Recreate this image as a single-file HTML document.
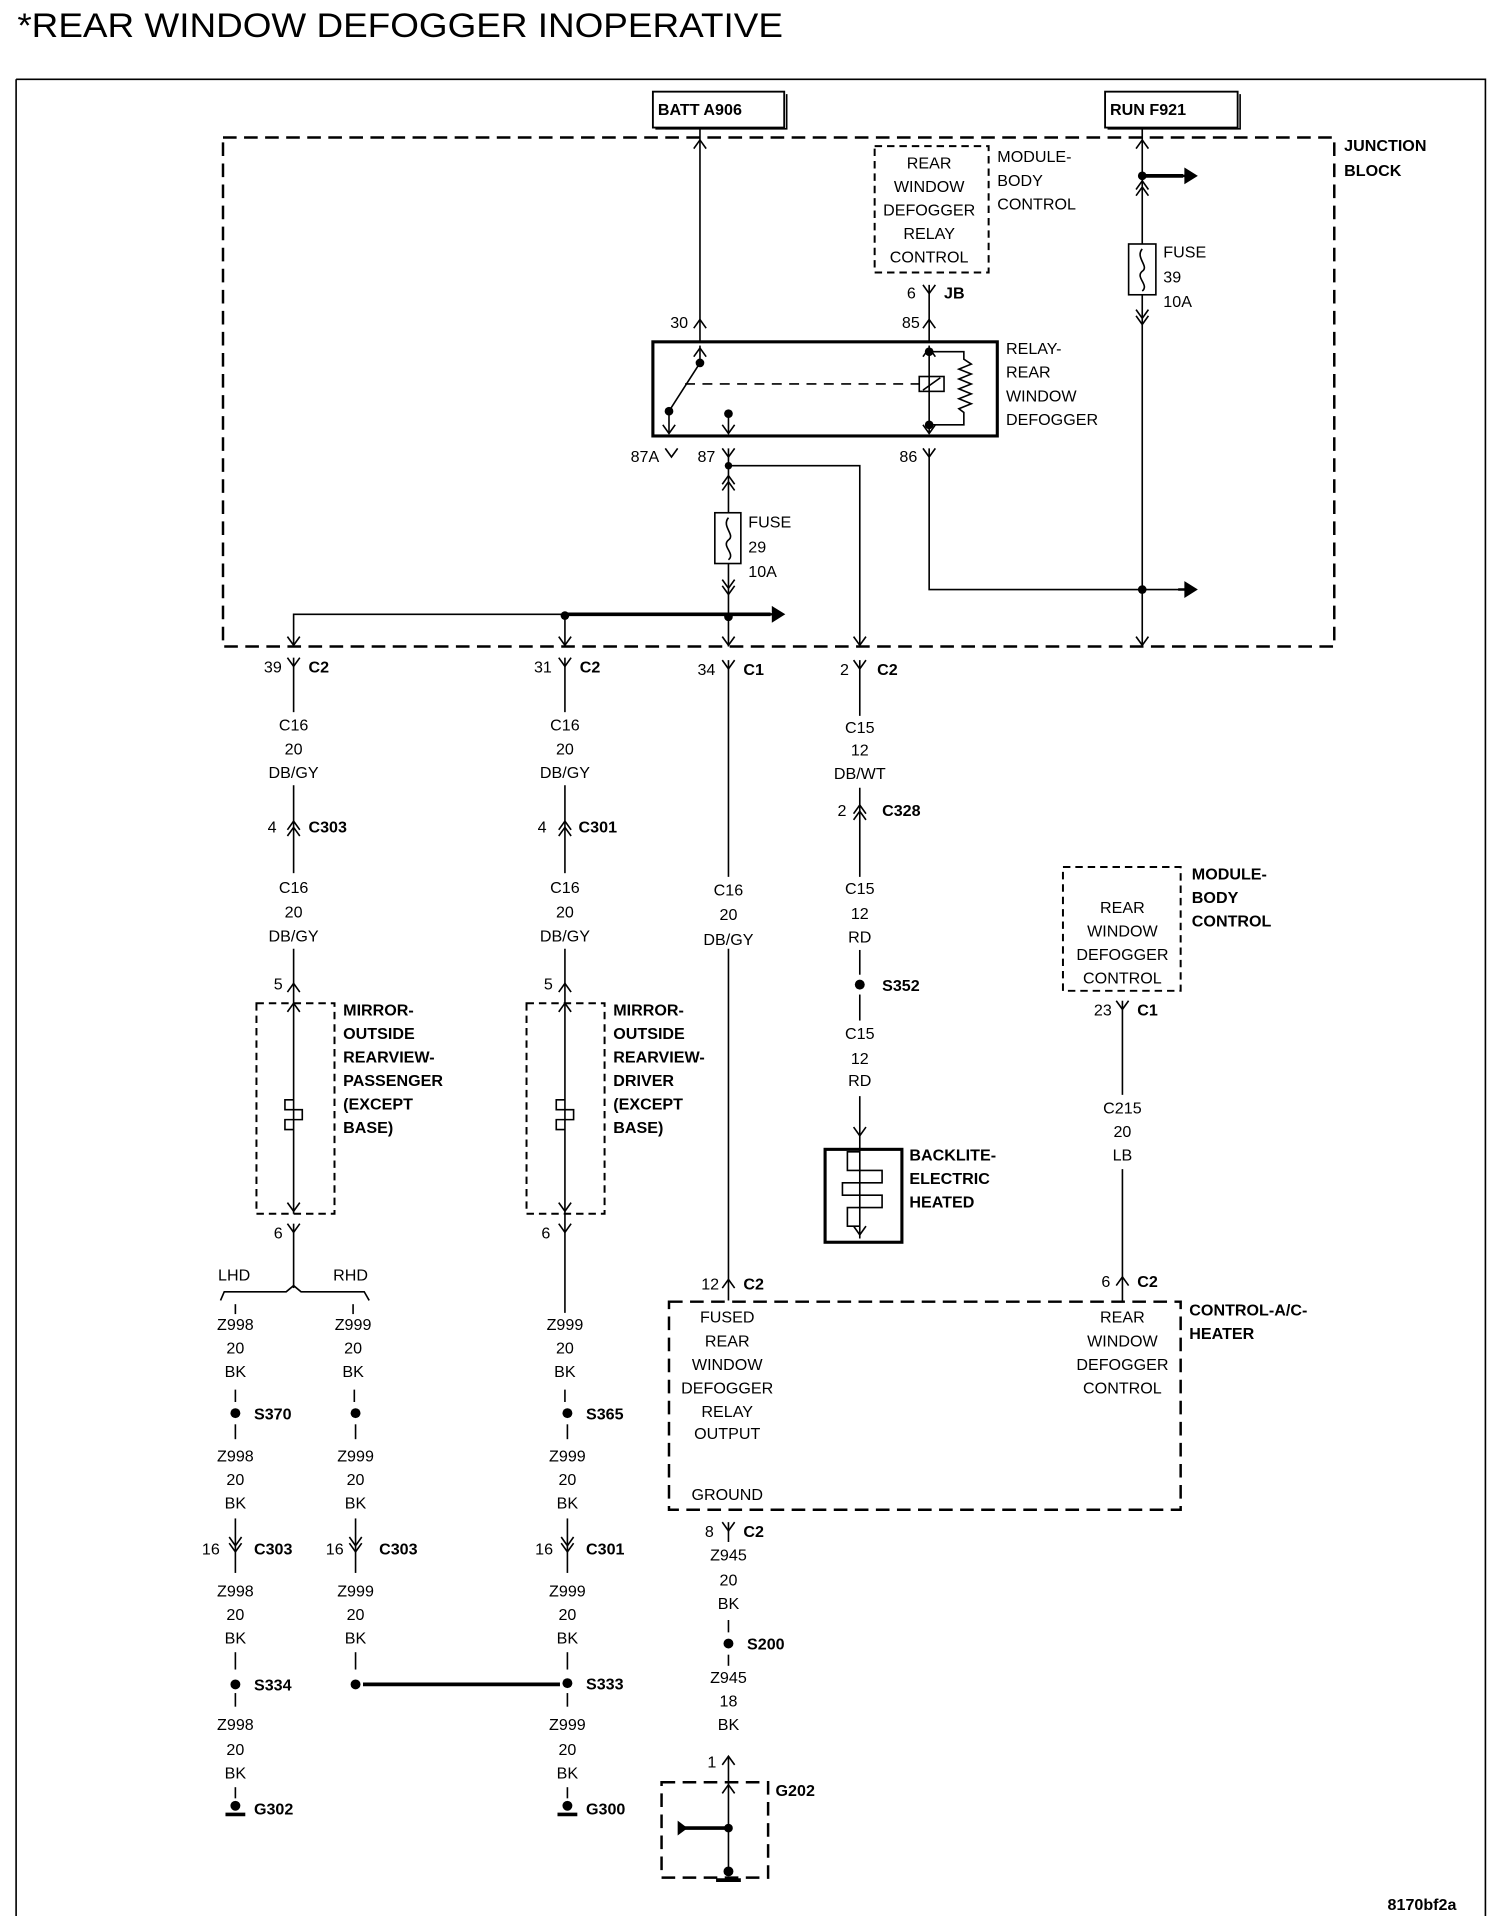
<!DOCTYPE html>
<html><head><meta charset="utf-8">
<style>
html,body{margin:0;padding:0;background:#fff;}
svg{display:block;}
text{font-family:"Liberation Sans Narrow","Liberation Sans",sans-serif;font-size:13px;fill:#000;}
.c{text-anchor:middle;}
.b{font-weight:bold;font-family:"Liberation Sans Narrow","Liberation Sans",sans-serif;}
.w{stroke:#000;stroke-width:1.3;fill:none;}
.t{stroke:#000;stroke-width:3;fill:none;}
.d{stroke:#000;stroke-width:2;fill:none;stroke-dasharray:11 6;}
.dt{stroke:#000;stroke-width:1.6;fill:none;stroke-dasharray:6 4;}
</style></head><body>
<svg width="1504" height="1916" viewBox="0 0 1214 1547" preserveAspectRatio="none" xmlns="http://www.w3.org/2000/svg">
<defs>
<path id="dn" d="M-5,-7 L0,0 L5,-7" stroke="#000" stroke-width="1.3" fill="none"/>
<path id="up" d="M-5,7 L0,0 L5,7" stroke="#000" stroke-width="1.3" fill="none"/>
<path id="arr" d="M0,0 L12,0 M6,-5 L14,0 L6,5 Z" stroke="#000" stroke-width="2" fill="#000"/>
</defs>
<text x="14" y="30" style="font-family:'Liberation Sans',sans-serif;font-size:28px" textLength="618" lengthAdjust="spacingAndGlyphs">*REAR WINDOW DEFOGGER INOPERATIVE</text>
<!-- frame -->
<path d="M13,64 H1199 V1553 M13,64 V1553" class="w" stroke-width="1.5"/>
<line x1="13" y1="1554" x2="1199" y2="1554" stroke="#000" stroke-width="3"/>

<!-- top boxes -->
<rect x="527" y="74" width="106" height="29" fill="none" stroke="#000" stroke-width="1.5"/>
<path d="M529,104 H635 V76" class="w" stroke-width="2.5"/>
<text x="531" y="93" class="b" font-size="13">BATT A906</text>
<rect x="892" y="74" width="107" height="29" fill="none" stroke="#000" stroke-width="1.5"/>
<path d="M894,104 H1001 V76" class="w" stroke-width="2.5"/>
<text x="896" y="93" class="b" font-size="13">RUN F921</text>

<!-- junction block -->
<rect x="180" y="111" width="897" height="411" class="d"/>
<text x="1085" y="122" class="b">JUNCTION</text>
<text x="1085" y="142" class="b">BLOCK</text>

<!-- batt wire -->
<line x1="565" y1="104" x2="565" y2="276" class="w"/>
<use href="#up" x="565" y="113"/>
<text x="541" y="265">30</text><use href="#up" x="565" y="258"/>

<!-- module body control top -->
<path d="M706,118 H798 V220 H706 Z" class="dt"/>
<text x="750" y="136" class="c">REAR</text>
<text x="750" y="155" class="c">WINDOW</text>
<text x="750" y="174" class="c">DEFOGGER</text>
<text x="750" y="193" class="c">RELAY</text>
<text x="750" y="212" class="c">CONTROL</text>
<text x="805" y="131">MODULE-</text>
<text x="805" y="150">BODY</text>
<text x="805" y="169">CONTROL</text>
<line x1="750" y1="230" x2="750" y2="276" class="w"/>
<use href="#dn" x="750" y="237"/>
<text x="732" y="241">6</text><text x="762" y="241" class="b">JB</text>
<use href="#up" x="750" y="258"/><text x="728" y="265">85</text>

<!-- relay -->
<rect x="527" y="276" width="278" height="76" fill="none" stroke="#000" stroke-width="2.5"/>
<text x="812" y="286">RELAY-</text>
<text x="812" y="305">REAR</text>
<text x="812" y="324">WINDOW</text>
<text x="812" y="343">DEFOGGER</text>
<line x1="565" y1="279" x2="565" y2="293" class="w"/><use href="#up" x="565" y="281"/>
<circle cx="565" cy="293" r="3.5"/>
<line x1="565" y1="293" x2="540" y2="332" class="w"/>
<circle cx="540" cy="332" r="3.5"/>
<line x1="540" y1="332" x2="540" y2="350" class="w"/><use href="#dn" x="540" y="350"/>
<circle cx="588" cy="334" r="3.5"/>
<line x1="588" y1="334" x2="588" y2="350" class="w"/><use href="#dn" x="588" y="350"/>
<line x1="553" y1="310" x2="742" y2="310" class="w" stroke-dasharray="8 6"/>
<rect x="742" y="304" width="20" height="12" fill="none" stroke="#000" stroke-width="1.3"/>
<line x1="745" y1="315" x2="759" y2="305" class="w"/>
<line x1="750" y1="279" x2="750" y2="350" class="w"/><use href="#up" x="750" y="281"/><use href="#dn" x="750" y="350"/>
<circle cx="750" cy="284" r="3.5"/><circle cx="750" cy="343" r="3.5"/>
<path d="M750,284 H778 V290 L784,294 L774,298 L784,302 L774,306 L784,310 L774,314 L784,318 L774,322 L784,326 L774,330 L778,333 V343 H750" class="w"/>

<text x="509" y="373">87A</text><use href="#dn" x="542" y="369"/>
<text x="563" y="373">87</text><use href="#dn" x="588" y="369"/>
<text x="726" y="373">86</text><use href="#dn" x="750" y="369"/>

<!-- 87 wire -->
<line x1="588" y1="362" x2="588" y2="522" class="w"/>
<circle cx="588" cy="376" r="3"/>
<path d="M588,376 H694 V522" class="w" stroke-width="1.6"/>
<use href="#dn" x="694" y="521"/>
<use href="#up" x="588" y="384"/><use href="#up" x="588" y="389"/>
<rect x="577" y="414" width="21" height="41" fill="#fff" stroke="#000" stroke-width="1.3"/>
<path d="M588,418 C582,425 594,432 588,436 C582,441 594,447 588,452" class="w"/>
<text x="604" y="426">FUSE</text><text x="604" y="446">29</text><text x="604" y="466">10A</text>
<use href="#dn" x="588" y="475"/><use href="#dn" x="588" y="480"/>
<!-- bus -->
<path d="M237,522 V496 H622" class="w"/>
<path d="M456,496 H622" class="t" stroke-width="2"/>
<use href="#arr" x="618" y="498" transform="translate(0,-2)"/>
<circle cx="456" cy="497" r="3.5"/><circle cx="588" cy="498" r="3.5"/>
<line x1="456" y1="497" x2="456" y2="522" class="w"/>
<use href="#dn" x="237" y="521"/><use href="#dn" x="456" y="521"/><use href="#dn" x="588" y="521"/>

<!-- 86 wire -->
<path d="M750,362 V476 H955" class="w"/>
<circle cx="922" cy="476" r="3.5"/>
<use href="#arr" x="951" y="476"/>
<!-- run wire -->
<line x1="922" y1="104" x2="922" y2="522" class="w"/>
<use href="#up" x="922" y="113"/>
<circle cx="922" cy="142" r="3.5"/>
<line x1="922" y1="142" x2="955" y2="142" class="t" stroke-width="2"/>
<use href="#arr" x="951" y="142"/>
<use href="#up" x="922" y="208" transform="translate(0,-62)"/><use href="#up" x="922" y="213" transform="translate(0,-62)"/>
<rect x="911" y="197" width="22" height="41" fill="#fff" stroke="#000" stroke-width="1.3"/>
<path d="M922,201 C916,208 928,215 922,219 C916,224 928,230 922,235" class="w"/>
<text x="939" y="208">FUSE</text><text x="939" y="228">39</text><text x="939" y="248">10A</text>
<use href="#dn" x="922" y="257"/><use href="#dn" x="922" y="262"/>
<use href="#dn" x="922" y="521"/>

<!-- connectors below JB -->
<g>
<use href="#dn" x="237" y="538"/><text x="213" y="543">39</text><text x="249" y="543" class="b">C2</text>
<use href="#dn" x="456" y="538"/><text x="431" y="543">31</text><text x="468" y="543" class="b">C2</text>
<use href="#dn" x="588" y="540"/><text x="563" y="545">34</text><text x="600" y="545" class="b">C1</text>
<use href="#dn" x="694" y="540"/><text x="678" y="545">2</text><text x="708" y="545" class="b">C2</text>
</g>

<!-- column A x=237 -->
<line x1="237" y1="531" x2="237" y2="575" class="w"/>
<text x="237" y="590" class="c">C16</text><text x="237" y="609" class="c">20</text><text x="237" y="628" class="c">DB/GY</text>
<line x1="237" y1="634" x2="237" y2="705" class="w"/>
<use href="#up" x="237" y="663"/><use href="#up" x="237" y="668"/>
<text x="216" y="672">4</text><text x="249" y="672" class="b">C303</text>
<text x="237" y="721" class="c">C16</text><text x="237" y="741" class="c">20</text><text x="237" y="760" class="c">DB/GY</text>
<line x1="237" y1="766" x2="237" y2="980" class="w"/>
<use href="#up" x="237" y="794"/><text x="221" y="799">5</text>
<use href="#up" x="237" y="810"/><use href="#dn" x="237" y="978"/>
<path d="M207,810 H270 V980 H207 Z" class="dt"/>
<path d="M237,888 H230 V896 H244 V904 H230 V912 H237" class="w"/>
<text x="277" y="820" class="b">MIRROR-</text><text x="277" y="839" class="b">OUTSIDE</text><text x="277" y="858" class="b">REARVIEW-</text><text x="277" y="877" class="b">PASSENGER</text><text x="277" y="896" class="b">(EXCEPT</text><text x="277" y="915" class="b">BASE)</text>
<use href="#dn" x="237" y="995"/><text x="221" y="1000">6</text>
<line x1="237" y1="988" x2="237" y2="1040" class="w"/>
<text x="189" y="1034" class="c">LHD</text><text x="283" y="1034" class="c">RHD</text>
<path d="M178,1050 L181,1043 H231 L237,1038 L243,1043 H294 L298,1050" class="w"/>

<!-- A1 x=190 -->
<line x1="190" y1="1053" x2="190" y2="1061" class="w"/>
<text x="190" y="1074" class="c">Z998</text><text x="190" y="1093" class="c">20</text><text x="190" y="1112" class="c">BK</text>
<line x1="190" y1="1122" x2="190" y2="1132" class="w"/>
<circle cx="190" cy="1141" r="4"/><text x="205" y="1146" class="b">S370</text>
<line x1="190" y1="1150" x2="190" y2="1162" class="w"/>
<text x="190" y="1180" class="c">Z998</text><text x="190" y="1199" class="c">20</text><text x="190" y="1218" class="c">BK</text>
<line x1="190" y1="1226" x2="190" y2="1270" class="w"/>
<use href="#dn" x="190" y="1248"/><use href="#dn" x="190" y="1253"/>
<text x="163" y="1255">16</text><text x="205" y="1255" class="b">C303</text>
<text x="190" y="1289" class="c">Z998</text><text x="190" y="1308" class="c">20</text><text x="190" y="1327" class="c">BK</text>
<line x1="190" y1="1334" x2="190" y2="1348" class="w"/>
<circle cx="190" cy="1360" r="4"/><text x="205" y="1365" class="b">S334</text>
<line x1="190" y1="1367" x2="190" y2="1378" class="w"/>
<text x="190" y="1397" class="c">Z998</text><text x="190" y="1417" class="c">20</text><text x="190" y="1436" class="c">BK</text>
<line x1="190" y1="1443" x2="190" y2="1452" class="w"/>
<circle cx="190" cy="1458" r="4"/><line x1="182" y1="1465" x2="198" y2="1465" class="t" stroke-width="2"/>
<text x="205" y="1465" class="b">G302</text>

<!-- A2 x=288 -->
<line x1="285" y1="1053" x2="285" y2="1061" class="w"/>
<text x="285" y="1074" class="c">Z999</text><text x="285" y="1093" class="c">20</text><text x="285" y="1112" class="c">BK</text>
<line x1="286" y1="1122" x2="286" y2="1132" class="w"/>
<circle cx="287" cy="1141" r="4"/>
<line x1="287" y1="1150" x2="287" y2="1162" class="w"/>
<text x="287" y="1180" class="c">Z999</text><text x="287" y="1199" class="c">20</text><text x="287" y="1218" class="c">BK</text>
<line x1="287" y1="1226" x2="287" y2="1270" class="w"/>
<use href="#dn" x="287" y="1248"/><use href="#dn" x="287" y="1253"/>
<text x="263" y="1255">16</text><text x="306" y="1255" class="b">C303</text>
<text x="287" y="1289" class="c">Z999</text><text x="287" y="1308" class="c">20</text><text x="287" y="1327" class="c">BK</text>
<line x1="287" y1="1334" x2="287" y2="1348" class="w"/>
<circle cx="287" cy="1360" r="4"/>
<line x1="293" y1="1360" x2="452" y2="1360" class="t" stroke-width="2.5"/>

<!-- column B x=456 -->
<line x1="456" y1="531" x2="456" y2="575" class="w"/>
<text x="456" y="590" class="c">C16</text><text x="456" y="609" class="c">20</text><text x="456" y="628" class="c">DB/GY</text>
<line x1="456" y1="634" x2="456" y2="705" class="w"/>
<use href="#up" x="456" y="663"/><use href="#up" x="456" y="668"/>
<text x="434" y="672">4</text><text x="467" y="672" class="b">C301</text>
<text x="456" y="721" class="c">C16</text><text x="456" y="741" class="c">20</text><text x="456" y="760" class="c">DB/GY</text>
<line x1="456" y1="766" x2="456" y2="1060" class="w"/>
<use href="#up" x="456" y="794"/><text x="439" y="799">5</text>
<use href="#up" x="456" y="810"/><use href="#dn" x="456" y="978"/>
<path d="M425,810 H488 V980 H425 Z" class="dt"/>
<path d="M456,888 H449 V896 H463 V904 H449 V912 H456" class="w"/>
<text x="495" y="820" class="b">MIRROR-</text><text x="495" y="839" class="b">OUTSIDE</text><text x="495" y="858" class="b">REARVIEW-</text><text x="495" y="877" class="b">DRIVER</text><text x="495" y="896" class="b">(EXCEPT</text><text x="495" y="915" class="b">BASE)</text>
<use href="#dn" x="456" y="995"/><text x="437" y="1000">6</text>
<text x="456" y="1074" class="c">Z999</text><text x="456" y="1093" class="c">20</text><text x="456" y="1112" class="c">BK</text>
<line x1="456" y1="1122" x2="456" y2="1132" class="w"/>
<circle cx="458" cy="1141" r="4"/><text x="473" y="1146" class="b">S365</text>
<line x1="458" y1="1150" x2="458" y2="1162" class="w"/>
<text x="458" y="1180" class="c">Z999</text><text x="458" y="1199" class="c">20</text><text x="458" y="1218" class="c">BK</text>
<line x1="458" y1="1226" x2="458" y2="1270" class="w"/>
<use href="#dn" x="458" y="1248"/><use href="#dn" x="458" y="1253"/>
<text x="432" y="1255">16</text><text x="473" y="1255" class="b">C301</text>
<text x="458" y="1289" class="c">Z999</text><text x="458" y="1308" class="c">20</text><text x="458" y="1327" class="c">BK</text>
<line x1="458" y1="1334" x2="458" y2="1348" class="w"/>
<circle cx="458" cy="1359" r="4"/><text x="473" y="1364" class="b">S333</text>
<line x1="458" y1="1367" x2="458" y2="1378" class="w"/>
<text x="458" y="1397" class="c">Z999</text><text x="458" y="1417" class="c">20</text><text x="458" y="1436" class="c">BK</text>
<line x1="458" y1="1443" x2="458" y2="1452" class="w"/>
<circle cx="458" cy="1458" r="4"/><line x1="450" y1="1465" x2="466" y2="1465" class="t" stroke-width="2"/>
<text x="473" y="1465" class="b">G300</text>

<!-- column C x=588 -->
<line x1="588" y1="533" x2="588" y2="1050" class="w"/>
<rect x="570" y="708" width="36" height="58" fill="#fff"/>
<text x="588" y="723" class="c">C16</text><text x="588" y="743" class="c">20</text><text x="588" y="763" class="c">DB/GY</text>
<use href="#up" x="588" y="1033"/><text x="566" y="1041">12</text><text x="600" y="1041" class="b">C2</text>

<!-- column D x=694 -->
<line x1="694" y1="533" x2="694" y2="578" class="w"/>
<text x="694" y="592" class="c">C15</text><text x="694" y="610" class="c">12</text><text x="694" y="629" class="c">DB/WT</text>
<line x1="694" y1="636" x2="694" y2="708" class="w"/>
<use href="#up" x="694" y="650"/><use href="#up" x="694" y="655"/>
<text x="676" y="659">2</text><text x="712" y="659" class="b">C328</text>
<text x="694" y="722" class="c">C15</text><text x="694" y="742" class="c">12</text><text x="694" y="761" class="c">RD</text>
<line x1="694" y1="767" x2="694" y2="787" class="w"/>
<circle cx="694" cy="795" r="4"/><text x="712" y="800" class="b">S352</text>
<line x1="694" y1="803" x2="694" y2="824" class="w"/>
<text x="694" y="839" class="c">C15</text><text x="694" y="859" class="c">12</text><text x="694" y="877" class="c">RD</text>
<line x1="694" y1="885" x2="694" y2="1000" class="w"/>
<use href="#dn" x="694" y="917"/>
<rect x="666" y="928" width="62" height="75" fill="none" stroke="#000" stroke-width="2.5"/>
<path d="M694,930 H684 V945 H712 V955 H680 V965 H712 V975 H684 V990 H694" class="w"/>
<use href="#dn" x="694" y="997"/>
<text x="734" y="937" class="b">BACKLITE-</text><text x="734" y="956" class="b">ELECTRIC</text><text x="734" y="975" class="b">HEATED</text>

<!-- column E x=906 -->
<path d="M858,700 H953 V800 H858 Z" class="dt"/>
<text x="906" y="737" class="c">REAR</text><text x="906" y="756" class="c">WINDOW</text><text x="906" y="775" class="c">DEFOGGER</text><text x="906" y="794" class="c">CONTROL</text>
<text x="962" y="710" class="b">MODULE-</text><text x="962" y="729" class="b">BODY</text><text x="962" y="748" class="b">CONTROL</text>
<line x1="906" y1="808" x2="906" y2="884" class="w"/>
<use href="#dn" x="906" y="815"/><text x="883" y="820">23</text><text x="918" y="820" class="b">C1</text>
<text x="906" y="899" class="c">C215</text><text x="906" y="918" class="c">20</text><text x="906" y="937" class="c">LB</text>
<line x1="906" y1="944" x2="906" y2="1050" class="w"/>
<use href="#up" x="906" y="1031"/><text x="889" y="1039">6</text><text x="918" y="1039" class="b">C2</text>

<!-- control A/C heater -->
<path d="M540,1051 H953 V1219 H540 Z" class="d"/>
<text x="960" y="1062" class="b">CONTROL-A/C-</text><text x="960" y="1081" class="b">HEATER</text>
<text x="587" y="1068" class="c">FUSED</text><text x="587" y="1087" class="c">REAR</text><text x="587" y="1106" class="c">WINDOW</text><text x="587" y="1125" class="c">DEFOGGER</text><text x="587" y="1144" class="c">RELAY</text><text x="587" y="1162" class="c">OUTPUT</text>
<text x="587" y="1211" class="c">GROUND</text>
<text x="906" y="1068" class="c">REAR</text><text x="906" y="1087" class="c">WINDOW</text><text x="906" y="1106" class="c">DEFOGGER</text><text x="906" y="1125" class="c">CONTROL</text>

<!-- ground col x=588 -->
<line x1="588" y1="1229" x2="588" y2="1245" class="w"/>
<use href="#dn" x="588" y="1236"/><text x="569" y="1241">8</text><text x="600" y="1241" class="b">C2</text>
<text x="588" y="1260" class="c">Z945</text><text x="588" y="1280" class="c">20</text><text x="588" y="1299" class="c">BK</text>
<line x1="588" y1="1308" x2="588" y2="1318" class="w"/>
<circle cx="588" cy="1327" r="4"/><text x="603" y="1332" class="b">S200</text>
<line x1="588" y1="1336" x2="588" y2="1345" class="w"/>
<text x="588" y="1359" class="c">Z945</text><text x="588" y="1378" class="c">18</text><text x="588" y="1397" class="c">BK</text>
<line x1="588" y1="1418" x2="588" y2="1511" class="w"/>
<use href="#up" x="588" y="1418"/><text x="571" y="1427">1</text>
<use href="#up" x="588" y="1441"/>
<path d="M534,1439 H620 V1516 H534 Z" class="d"/>
<text x="626" y="1450" class="b">G202</text>
<circle cx="588" cy="1476" r="3.5"/>
<line x1="552" y1="1476" x2="588" y2="1476" class="t" stroke-width="2"/>
<path d="M547,1470 L555,1476 L547,1482 Z" fill="#000"/>
<circle cx="588" cy="1511" r="4"/><line x1="578" y1="1518" x2="598" y2="1518" class="t" stroke-width="2"/>

<text x="1120" y="1542" class="b" font-size="9">8170bf2a</text>
</svg>
</body></html>
